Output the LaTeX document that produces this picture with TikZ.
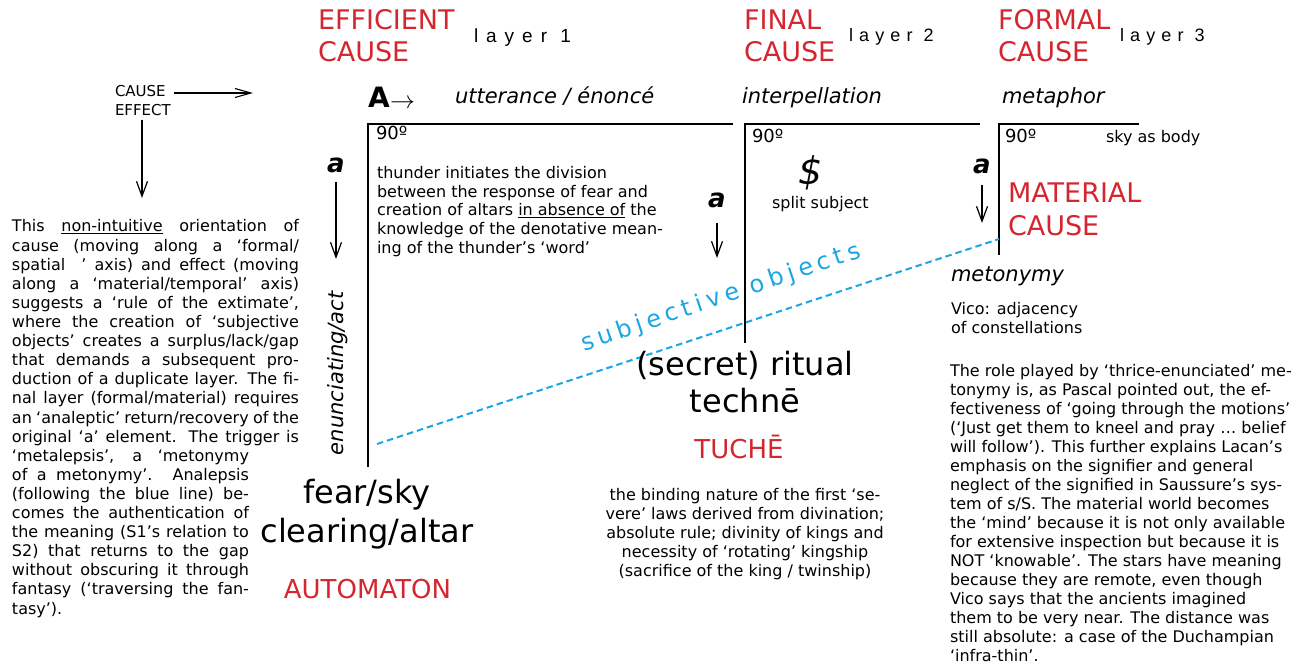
\documentclass[tikz,border=0pt]{standalone}
\usepackage{fontspec}
\setmainfont{DejaVu Sans}
\newfontfamily\layerfontA[LetterSpace=42]{Liberation Sans}
\newfontfamily\layerfontB[LetterSpace=34]{Liberation Sans}
\newfontfamily\subjfont[LetterSpace=20]{DejaVu Sans}
\usetikzlibrary{arrows.meta}
\definecolor{cred}{RGB}{213,38,48}
\definecolor{cblue}{RGB}{26,166,226}
\newcommand{\setsz}[2]{\fontsize{#1}{#2}\selectfont}
\tikzset{
  txt/.style={inner sep=0pt, outer sep=0pt, anchor=base west},
  ctxt/.style={inner sep=0pt, outer sep=0pt, anchor=base},
  redlbl/.style={txt, text=cred},
  boxline/.style={line width=2.3pt},
  arr/.style={line width=1.2pt, -{Straight Barb[length=15pt,width=11pt]}},
  smallarr/.style={line width=1.1pt, -{Straight Barb[length=16pt,width=9pt]}},
  layerlbl/.style={txt, font=\layerfontA\setsz{19}{22}},
  layerlblB/.style={txt, font=\layerfontB\setsz{18}{22}},
  itl/.style={txt, font=\itshape\setsz{21}{25}},
  ninety/.style={txt, font=\setsz{18}{20}},
  avar/.style={txt, font=\bfseries\itshape\setsz{26}{30}},
}
\begin{document}
\begin{tikzpicture}[x=1pt,y=-1pt]
\useasboundingbox (0,0) rectangle (1297,668);

% ---- top red labels and layers
\node[redlbl] (efficient) at (318,30) {\parbox[t]{160pt}{\setsz{27}{32}EFFICIENT\\CAUSE}};
\node[layerlbl] (layer1) at (474,43) {layer 1};
\node[redlbl] (final) at (744,30) {\parbox[t]{120pt}{\setsz{27}{32}FINAL\\CAUSE}};
\node[layerlblB] (layer2) at (849,42) {layer 2};
\node[redlbl] (formal) at (998,30) {\parbox[t]{130pt}{\setsz{27}{32}FORMAL\\CAUSE}};
\node[layerlblB] (layer3) at (1120,42) {layer 3};

% ---- cause / effect legend
\node[txt, font=\setsz{15}{19}] (cause) at (115,97) {CAUSE};
\node[txt, font=\setsz{15}{19}] (effect) at (115,116) {EFFECT};
\coordinate (ceA) at (174,93);
\coordinate (ceB) at (253,93);
\draw[smallarr] (ceA) -- (ceB);
\coordinate (efA) at (142,120);
\coordinate (efB) at (142,198);
\draw[arr] (efA) -- (efB);

% ---- A arrow and headings
\node[txt, font=\bfseries\setsz{28}{30}] (bigA) at (368,108) {A};
\node[txt, font=\setsz{30}{30}] (Aarrow) at (390,109) {$\rightarrow$};
\node[itl] (utter) at (455,104) {utterance / énoncé};
\node[itl] (interp) at (742,104) {interpellation};
\node[itl] (metaph) at (1002,104) {metaphor};

% ---- boxes
\coordinate (b1r) at (733,124);
\coordinate (b1c) at (368,124);
\coordinate (b1b) at (368,467);
\draw[boxline] (b1r) -- (b1c) -- (b1b);
\coordinate (b2r) at (980,124);
\coordinate (b2c) at (745,124);
\coordinate (b2b) at (745,343);
\draw[boxline] (b2r) -- (b2c) -- (b2b);
\coordinate (b3r) at (1139,124);
\coordinate (b3c) at (999,124);
\coordinate (b3b) at (999,255);
\draw[boxline] (b3r) -- (b3c) -- (b3b);

\node[ninety] (n1) at (376,140) {90º};
\node[ninety] (n2) at (752,143) {90º};
\node[ninety] (n3) at (1005,143) {90º};
\node[txt, font=\setsz{16}{19}] (skybody) at (1106,143) {sky as body};

% ---- a arrows
\node[avar] (a1) at (327,173) {a};
\coordinate (a1s) at (336,182);
\coordinate (a1e) at (336,259);
\draw[arr] (a1s) -- (a1e);
\node[avar] (a2) at (708,208) {a};
\coordinate (a2s) at (717,223);
\coordinate (a2e) at (717,258);
\draw[arr] (a2s) -- (a2e);
\node[avar] (a3) at (973,174) {a};
\coordinate (a3s) at (982,185);
\coordinate (a3e) at (982,223);
\draw[arr] (a3s) -- (a3e);

\node[txt, rotate=90, font=\itshape\setsz{21}{25}] (enunc) at (343,455) {enunciating/act};

% ---- box 1 text
\node[txt] (thunder) at (377,179) {\parbox[t]{330pt}{\setsz{16}{18.5}thunder initiates the division\\
between the response of fear and\\
creation of altars \underline{in absence of} the\\
knowledge of the denotative mean-\\
ing of the thunder’s ‘word’}};

% ---- box 2 text
\node[txt, font=\itshape\setsz{38}{40}] (dollar) at (798,185) {\$};
\node[txt, font=\setsz{16}{19}] (split) at (772,209) {split subject};

% ---- box 3 text
\node[redlbl] (material) at (1008,203) {\parbox[t]{160pt}{\setsz{27}{33}MATERIAL\\CAUSE}};
\node[itl] (meton) at (951,281) {metonymy};
\node[txt] (vico) at (951,314) {\parbox[t]{200pt}{\setsz{16}{19}Vico: adjacency\\of constellations}};

% ---- subjective objects
\coordinate (blA) at (377,444);
\coordinate (blB) at (999,239);
\draw[cblue, line width=2pt, dash pattern=on 6.5pt off 4pt] (blA) -- (blB);
\node[txt, rotate=18.6, text=cblue, font=\subjfont\setsz{24}{26}] (subj) at (584,351) {subjective objects};

% ---- big center texts
\node[ctxt] (ritual) at (745,375) {\parbox[t]{320pt}{\centering\setsz{32}{37}(secret) ritual\\technē}};
\node[ctxt, text=cred, font=\setsz{26}{30}] (tuche) at (739,458) {TUCHĒ};
\node[ctxt] (binding) at (745,500) {\parbox[t]{320pt}{\centering\setsz{16}{19.2}the binding nature of the first ‘se-\\
vere’ laws derived from divination;\\
absolute rule; divinity of kings and\\
necessity of ‘rotating’ kingship\\
(sacrifice of the king / twinship)}};

\node[ctxt] (fearsky) at (367,503) {\parbox[t]{260pt}{\centering\setsz{32}{39}fear/sky\\clearing/altar}};
\node[ctxt, text=cred, font=\setsz{26}{30}] (automaton) at (367.5,598) {AUTOMATON};

% ---- left paragraph
\node[txt] (leftpar) at (12,232) {\parbox[t]{300pt}{\setsz{16}{19.1}\noindent
\makebox[287pt][s]{This \underline{non-intuitive} orientation of}\\
\makebox[287pt][s]{cause (moving along a ‘formal/}\\
\makebox[287pt][s]{spatial\ \ ’ axis) and effect (moving}\\
\makebox[287pt][s]{along a ‘material/temporal’ axis)}\\
\makebox[287pt][s]{suggests a ‘rule of the extimate’,}\\
\makebox[287pt][s]{where the creation of ‘subjective}\\
\makebox[287pt][s]{objects’ creates a surplus/lack/gap}\\
\makebox[287pt][s]{that demands a subsequent pro-}\\
\makebox[287pt][s]{duction of a duplicate layer. The fi-}\\
\makebox[287pt][s]{nal layer (formal/material) requires}\\
\makebox[287pt][s]{an ‘analeptic’ return/recovery of the}\\
\makebox[287pt][s]{original ‘a’ element. The trigger is}\\
\makebox[237pt][s]{‘metalepsis’, a ‘metonymy}\\
\makebox[237pt][s]{of a metonymy’. Analepsis}\\
\makebox[237pt][s]{(following the blue line) be-}\\
\makebox[237pt][s]{comes the authentication of}\\
\makebox[237pt][s]{the meaning (S1’s relation to}\\
\makebox[237pt][s]{S2) that returns to the gap}\\
\makebox[237pt][s]{without obscuring it through}\\
\makebox[237pt][s]{fantasy (‘traversing the fan-}\\
tasy’).}};

% ---- right paragraph
\node[txt] (rightpar) at (950,376) {\parbox[t]{347pt}{\setsz{16}{19}\raggedright
The role played by ‘thrice-enunciated’ me-\\
tonymy is, as Pascal pointed out, the ef-\\
fectiveness of ‘going through the motions’\\
(‘Just get them to kneel and pray … belief\\
will follow’). This further explains Lacan’s\\
emphasis on the signifier and general\\
neglect of the signified in Saussure’s sys-\\
tem of s/S. The material world becomes\\
the ‘mind’ because it is not only available\\
for extensive inspection but because it is\\
NOT ‘knowable’. The stars have meaning\\
because they are remote, even though\\
Vico says that the ancients imagined\\
them to be very near. The distance was\\
still absolute: a case of the Duchampian\\
‘infra-thin’.}};
\end{tikzpicture}
\end{document}
